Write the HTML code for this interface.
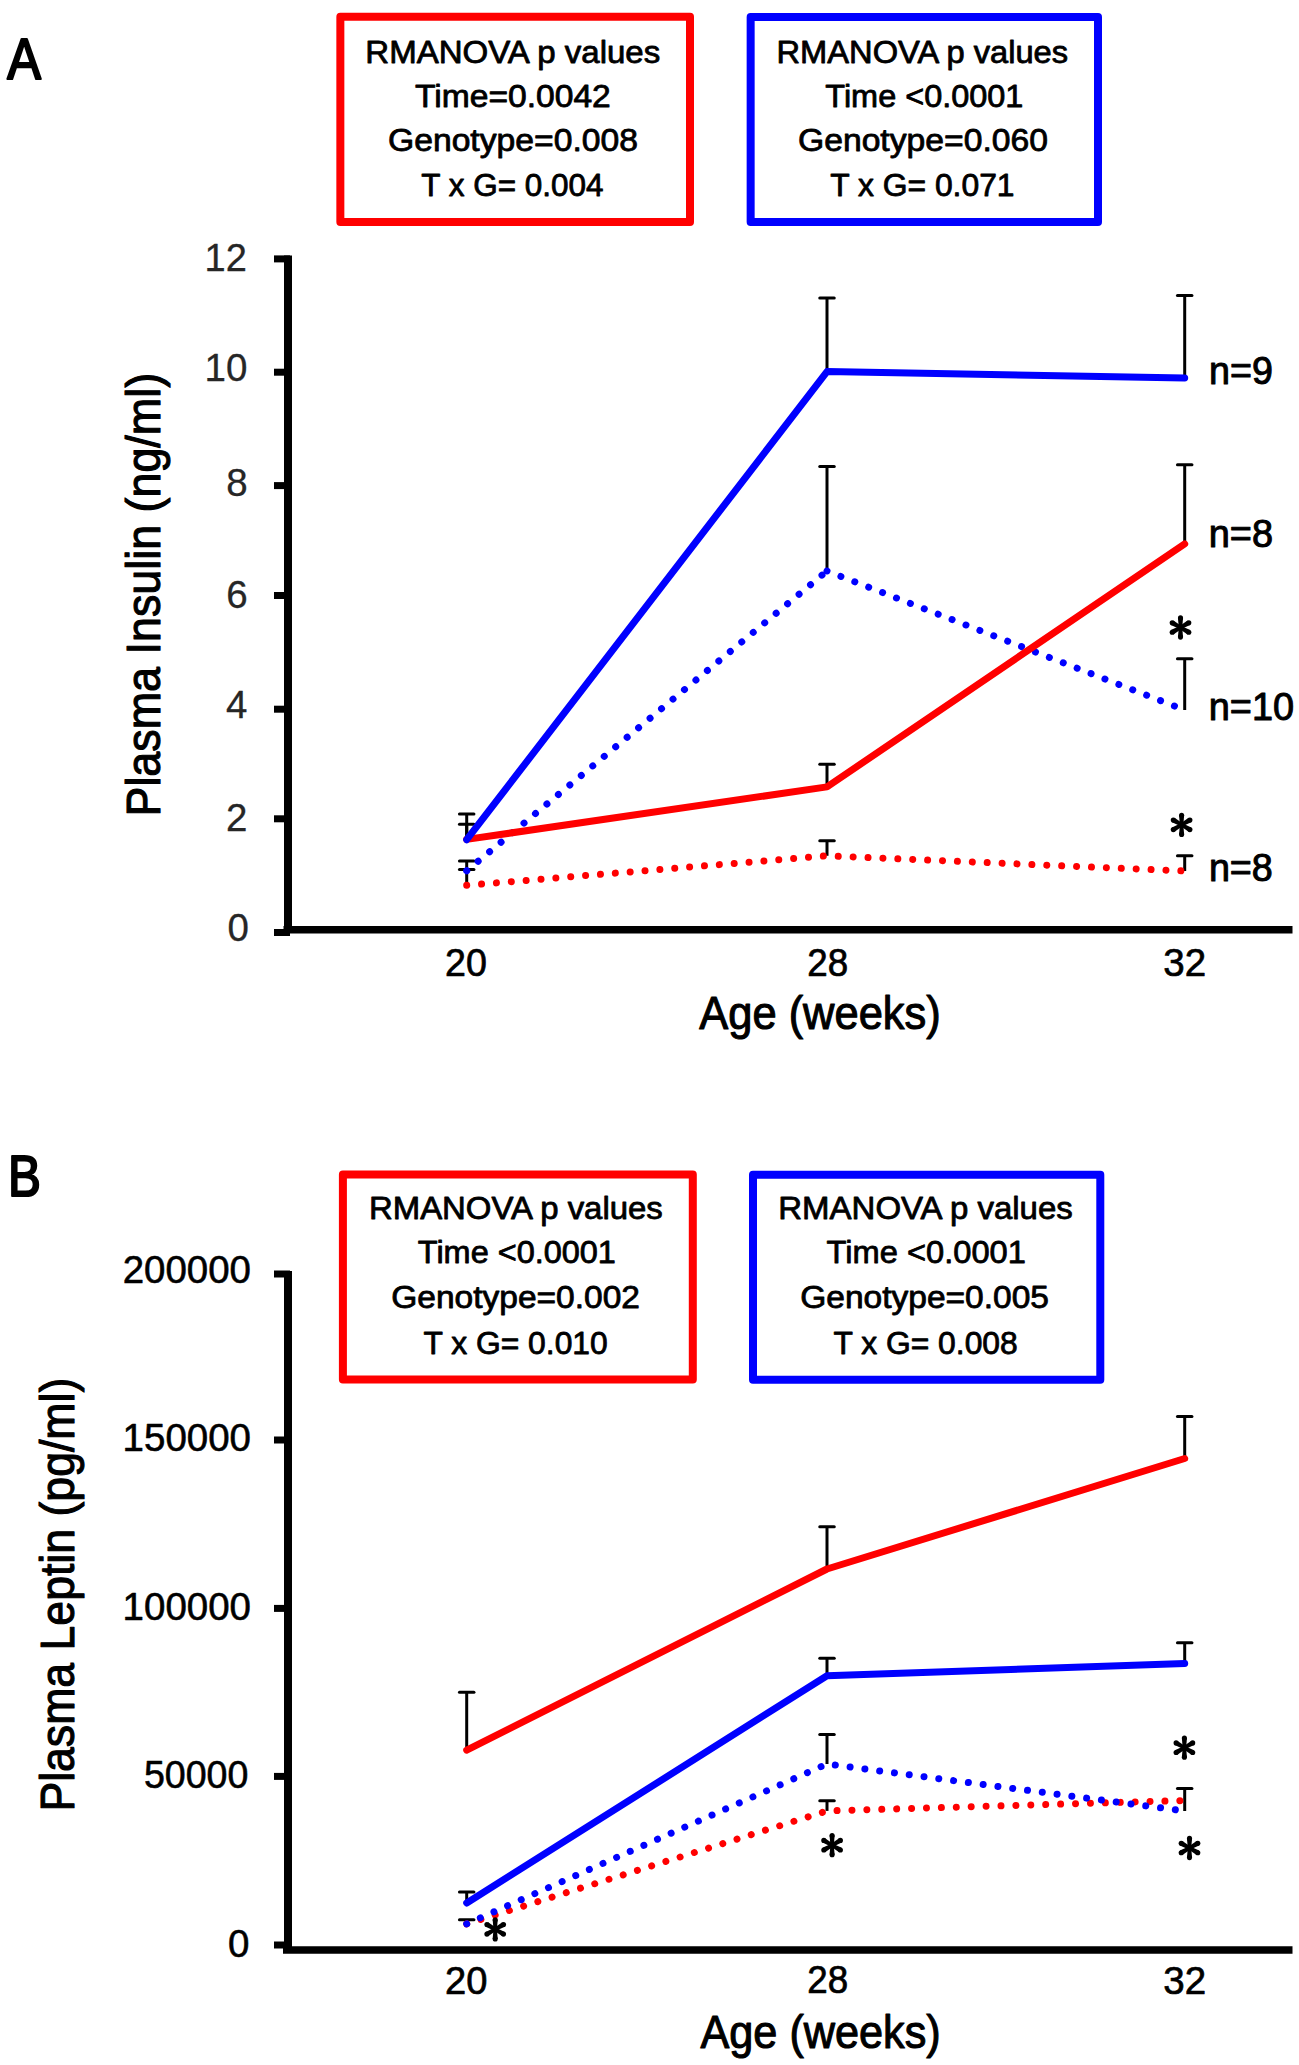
<!DOCTYPE html>
<html><head><meta charset="utf-8"><style>
html,body{margin:0;padding:0;background:#fff;width:1299px;height:2065px;overflow:hidden}
body{position:relative;font-family:"Liberation Sans", sans-serif}
</style></head><body>
<svg width="1299" height="2065" viewBox="0 0 1299 2065" style="position:absolute;left:0;top:0">
<g font-family='"Liberation Sans", sans-serif'>
<text x="0" y="0" transform="translate(7.2,78.6) scale(0.872,0.99)" font-size="58" fill="#000" stroke="#000" stroke-width="2.2" stroke-linejoin="round">A</text>
<text x="0" y="0" transform="translate(8,1196) scale(0.85,0.99)" font-size="58" fill="#000" stroke="#000" stroke-width="2.2" stroke-linejoin="round">B</text>
<rect x="340.35" y="16.85" width="349.65" height="205.25" fill="none" stroke="#ff0000" stroke-width="8" stroke-linejoin="round"/>
<rect x="750.65" y="16.9" width="347.35" height="205.2" fill="none" stroke="#0000ff" stroke-width="8" stroke-linejoin="round"/>
<line x1="288" y1="255.5" x2="288" y2="930" stroke="#000" stroke-width="8" stroke-linecap="butt"/>
<line x1="283.5" y1="929.8" x2="1292.5" y2="929.8" stroke="#000" stroke-width="7.5" stroke-linecap="butt"/>
<line x1="274" y1="258.9" x2="290" y2="258.9" stroke="#000" stroke-width="7" stroke-linecap="butt"/>
<line x1="274" y1="372.2" x2="290" y2="372.2" stroke="#000" stroke-width="7" stroke-linecap="butt"/>
<line x1="274" y1="485.6" x2="290" y2="485.6" stroke="#000" stroke-width="7" stroke-linecap="butt"/>
<line x1="274" y1="595.5" x2="290" y2="595.5" stroke="#000" stroke-width="7" stroke-linecap="butt"/>
<line x1="274" y1="709.2" x2="290" y2="709.2" stroke="#000" stroke-width="7" stroke-linecap="butt"/>
<line x1="274" y1="818.8" x2="290" y2="818.8" stroke="#000" stroke-width="7" stroke-linecap="butt"/>
<line x1="274" y1="932.5" x2="290" y2="932.5" stroke="#000" stroke-width="7" stroke-linecap="butt"/>
<line x1="466.7" y1="839" x2="466.7" y2="813.9" stroke="#000" stroke-width="3" stroke-linecap="butt"/>
<line x1="459.45" y1="813.9" x2="473.95" y2="813.9" stroke="#000" stroke-width="3" stroke-linecap="round"/>
<line x1="466.7" y1="839" x2="466.7" y2="824.3" stroke="#000" stroke-width="3" stroke-linecap="butt"/>
<line x1="459.45" y1="824.3" x2="473.95" y2="824.3" stroke="#000" stroke-width="3" stroke-linecap="round"/>
<line x1="466.7" y1="870.8" x2="466.7" y2="861" stroke="#000" stroke-width="3" stroke-linecap="butt"/>
<line x1="459.45" y1="861" x2="473.95" y2="861" stroke="#000" stroke-width="3" stroke-linecap="round"/>
<line x1="466.7" y1="885.3" x2="466.7" y2="869.6" stroke="#000" stroke-width="3" stroke-linecap="butt"/>
<line x1="459.45" y1="869.6" x2="473.95" y2="869.6" stroke="#000" stroke-width="3" stroke-linecap="round"/>
<line x1="827" y1="371.6" x2="827" y2="298" stroke="#000" stroke-width="3" stroke-linecap="butt"/>
<line x1="819.75" y1="298" x2="834.25" y2="298" stroke="#000" stroke-width="3" stroke-linecap="round"/>
<line x1="827" y1="786.9" x2="827" y2="764.2" stroke="#000" stroke-width="3" stroke-linecap="butt"/>
<line x1="819.75" y1="764.2" x2="834.25" y2="764.2" stroke="#000" stroke-width="3" stroke-linecap="round"/>
<line x1="827" y1="571" x2="827" y2="466.4" stroke="#000" stroke-width="3" stroke-linecap="butt"/>
<line x1="819.75" y1="466.4" x2="834.25" y2="466.4" stroke="#000" stroke-width="3" stroke-linecap="round"/>
<line x1="827" y1="855.8" x2="827" y2="840.8" stroke="#000" stroke-width="3" stroke-linecap="butt"/>
<line x1="819.75" y1="840.8" x2="834.25" y2="840.8" stroke="#000" stroke-width="3" stroke-linecap="round"/>
<line x1="1184.7" y1="378" x2="1184.7" y2="295.5" stroke="#000" stroke-width="3" stroke-linecap="butt"/>
<line x1="1177.45" y1="295.5" x2="1191.95" y2="295.5" stroke="#000" stroke-width="3" stroke-linecap="round"/>
<line x1="1184.7" y1="543.9" x2="1184.7" y2="464.7" stroke="#000" stroke-width="3" stroke-linecap="butt"/>
<line x1="1177.45" y1="464.7" x2="1191.95" y2="464.7" stroke="#000" stroke-width="3" stroke-linecap="round"/>
<line x1="1184.7" y1="710" x2="1184.7" y2="658.7" stroke="#000" stroke-width="3" stroke-linecap="butt"/>
<line x1="1177.45" y1="658.7" x2="1191.95" y2="658.7" stroke="#000" stroke-width="3" stroke-linecap="round"/>
<line x1="1184.7" y1="871" x2="1184.7" y2="855.8" stroke="#000" stroke-width="3" stroke-linecap="butt"/>
<line x1="1177.45" y1="855.8" x2="1191.95" y2="855.8" stroke="#000" stroke-width="3" stroke-linecap="round"/>
<polyline points="466.7,885.3 827,855.8 1184.7,871" fill="none" stroke="#ff0000" stroke-width="7" stroke-linecap="round" stroke-linejoin="round" stroke-dasharray="0.01 14.9"/>
<polyline points="466.7,870.8 827,571" fill="none" stroke="#0000ff" stroke-width="7" stroke-linecap="round" stroke-linejoin="round" stroke-dasharray="0.01 14.9"/>
<polyline points="827,571 1184.7,710" fill="none" stroke="#0000ff" stroke-width="7" stroke-linecap="round" stroke-linejoin="round" stroke-dasharray="0.01 14.9"/>
<polyline points="466.7,839.4 827,786.9 1184.7,543.9" fill="none" stroke="#ff0000" stroke-width="7" stroke-linecap="round" stroke-linejoin="round"/>
<polyline points="466.7,839.7 827,371.6 1184.7,378" fill="none" stroke="#0000ff" stroke-width="7" stroke-linecap="round" stroke-linejoin="round"/>
<g fill="#000"><polygon points="1178.80,627.50 1177.95,637.10 1183.05,637.10 1182.20,627.50"/><circle cx="1180.50" cy="637.10" r="2.55"/><polygon points="1179.65,628.97 1187.54,634.51 1190.09,630.09 1181.35,626.03"/><circle cx="1188.81" cy="632.30" r="2.55"/><polygon points="1179.65,626.03 1170.91,630.09 1173.46,634.51 1181.35,628.97"/><circle cx="1172.19" cy="632.30" r="2.55"/><polygon points="1182.20,627.50 1183.05,617.90 1177.95,617.90 1178.80,627.50"/><circle cx="1180.50" cy="617.90" r="2.55"/><polygon points="1181.35,626.03 1173.46,620.49 1170.91,624.91 1179.65,628.97"/><circle cx="1172.19" cy="622.70" r="2.55"/><polygon points="1181.35,628.97 1190.09,624.91 1187.54,620.49 1179.65,626.03"/><circle cx="1188.81" cy="622.70" r="2.55"/><circle cx="1180.50" cy="627.50" r="3"/></g>
<g fill="#000"><polygon points="1179.90,824.80 1179.05,834.40 1184.15,834.40 1183.30,824.80"/><circle cx="1181.60" cy="834.40" r="2.55"/><polygon points="1180.75,826.27 1188.64,831.81 1191.19,827.39 1182.45,823.33"/><circle cx="1189.91" cy="829.60" r="2.55"/><polygon points="1180.75,823.33 1172.01,827.39 1174.56,831.81 1182.45,826.27"/><circle cx="1173.29" cy="829.60" r="2.55"/><polygon points="1183.30,824.80 1184.15,815.20 1179.05,815.20 1179.90,824.80"/><circle cx="1181.60" cy="815.20" r="2.55"/><polygon points="1182.45,823.33 1174.56,817.79 1172.01,822.21 1180.75,826.27"/><circle cx="1173.29" cy="820.00" r="2.55"/><polygon points="1182.45,826.27 1191.19,822.21 1188.64,817.79 1180.75,823.33"/><circle cx="1189.91" cy="820.00" r="2.55"/><circle cx="1181.60" cy="824.80" r="3"/></g>
<rect x="342.9" y="1174.55" width="349.9" height="204.85000000000014" fill="none" stroke="#ff0000" stroke-width="8" stroke-linejoin="round"/>
<rect x="753" y="1174.7" width="347.29999999999995" height="205.0999999999999" fill="none" stroke="#0000ff" stroke-width="8" stroke-linejoin="round"/>
<line x1="288" y1="1271" x2="288" y2="1948" stroke="#000" stroke-width="8" stroke-linecap="butt"/>
<line x1="283" y1="1950" x2="1292.5" y2="1950" stroke="#000" stroke-width="7.7" stroke-linecap="butt"/>
<line x1="274" y1="1274" x2="290" y2="1274" stroke="#000" stroke-width="7" stroke-linecap="butt"/>
<line x1="274" y1="1440" x2="290" y2="1440" stroke="#000" stroke-width="7" stroke-linecap="butt"/>
<line x1="274" y1="1608.4" x2="290" y2="1608.4" stroke="#000" stroke-width="7" stroke-linecap="butt"/>
<line x1="274" y1="1776.4" x2="290" y2="1776.4" stroke="#000" stroke-width="7" stroke-linecap="butt"/>
<line x1="274" y1="1945" x2="290" y2="1945" stroke="#000" stroke-width="7" stroke-linecap="butt"/>
<line x1="466.7" y1="1750.2" x2="466.7" y2="1692.2" stroke="#000" stroke-width="3" stroke-linecap="butt"/>
<line x1="459.45" y1="1692.2" x2="473.95" y2="1692.2" stroke="#000" stroke-width="3" stroke-linecap="round"/>
<line x1="466.7" y1="1903" x2="466.7" y2="1891.9" stroke="#000" stroke-width="3" stroke-linecap="butt"/>
<line x1="459.45" y1="1891.9" x2="473.95" y2="1891.9" stroke="#000" stroke-width="3" stroke-linecap="round"/>
<line x1="466.7" y1="1923.9" x2="466.7" y2="1919.7" stroke="#000" stroke-width="3" stroke-linecap="butt"/>
<line x1="459.45" y1="1919.7" x2="473.95" y2="1919.7" stroke="#000" stroke-width="3" stroke-linecap="round"/>
<line x1="827" y1="1569" x2="827" y2="1526.7" stroke="#000" stroke-width="3" stroke-linecap="butt"/>
<line x1="819.75" y1="1526.7" x2="834.25" y2="1526.7" stroke="#000" stroke-width="3" stroke-linecap="round"/>
<line x1="827" y1="1675.7" x2="827" y2="1658.2" stroke="#000" stroke-width="3" stroke-linecap="butt"/>
<line x1="819.75" y1="1658.2" x2="834.25" y2="1658.2" stroke="#000" stroke-width="3" stroke-linecap="round"/>
<line x1="827" y1="1764" x2="827" y2="1734.5" stroke="#000" stroke-width="3" stroke-linecap="butt"/>
<line x1="819.75" y1="1734.5" x2="834.25" y2="1734.5" stroke="#000" stroke-width="3" stroke-linecap="round"/>
<line x1="827" y1="1810.9" x2="827" y2="1800.8" stroke="#000" stroke-width="3" stroke-linecap="butt"/>
<line x1="819.75" y1="1800.8" x2="834.25" y2="1800.8" stroke="#000" stroke-width="3" stroke-linecap="round"/>
<line x1="1184.7" y1="1458.5" x2="1184.7" y2="1416.6" stroke="#000" stroke-width="3" stroke-linecap="butt"/>
<line x1="1177.45" y1="1416.6" x2="1191.95" y2="1416.6" stroke="#000" stroke-width="3" stroke-linecap="round"/>
<line x1="1184.7" y1="1663.4" x2="1184.7" y2="1642.8" stroke="#000" stroke-width="3" stroke-linecap="butt"/>
<line x1="1177.45" y1="1642.8" x2="1191.95" y2="1642.8" stroke="#000" stroke-width="3" stroke-linecap="round"/>
<line x1="1184.7" y1="1811" x2="1184.7" y2="1788.4" stroke="#000" stroke-width="3" stroke-linecap="butt"/>
<line x1="1177.45" y1="1788.4" x2="1191.95" y2="1788.4" stroke="#000" stroke-width="3" stroke-linecap="round"/>
<polyline points="466.7,1923.9 827,1810.9 1184.7,1800.5" fill="none" stroke="#ff0000" stroke-width="7" stroke-linecap="round" stroke-linejoin="round" stroke-dasharray="0.01 14.9"/>
<polyline points="466.7,1923.9 827,1764 1184.7,1811" fill="none" stroke="#0000ff" stroke-width="7" stroke-linecap="round" stroke-linejoin="round" stroke-dasharray="0.01 14.9"/>
<polyline points="466.7,1750.2 827,1569 1184.7,1458.5" fill="none" stroke="#ff0000" stroke-width="7" stroke-linecap="round" stroke-linejoin="round"/>
<polyline points="466.7,1903 827,1675.7 1184.7,1663.4" fill="none" stroke="#0000ff" stroke-width="7" stroke-linecap="round" stroke-linejoin="round"/>
<g fill="#000"><polygon points="493.50,1929.30 492.65,1938.90 497.75,1938.90 496.90,1929.30"/><circle cx="495.20" cy="1938.90" r="2.55"/><polygon points="494.35,1930.77 502.24,1936.31 504.79,1931.89 496.05,1927.83"/><circle cx="503.51" cy="1934.10" r="2.55"/><polygon points="494.35,1927.83 485.61,1931.89 488.16,1936.31 496.05,1930.77"/><circle cx="486.89" cy="1934.10" r="2.55"/><polygon points="496.90,1929.30 497.75,1919.70 492.65,1919.70 493.50,1929.30"/><circle cx="495.20" cy="1919.70" r="2.55"/><polygon points="496.05,1927.83 488.16,1922.29 485.61,1926.71 494.35,1930.77"/><circle cx="486.89" cy="1924.50" r="2.55"/><polygon points="496.05,1930.77 504.79,1926.71 502.24,1922.29 494.35,1927.83"/><circle cx="503.51" cy="1924.50" r="2.55"/><circle cx="495.20" cy="1929.30" r="3"/></g>
<g fill="#000"><polygon points="830.40,1845.20 829.55,1854.80 834.65,1854.80 833.80,1845.20"/><circle cx="832.10" cy="1854.80" r="2.55"/><polygon points="831.25,1846.67 839.14,1852.21 841.69,1847.79 832.95,1843.73"/><circle cx="840.41" cy="1850.00" r="2.55"/><polygon points="831.25,1843.73 822.51,1847.79 825.06,1852.21 832.95,1846.67"/><circle cx="823.79" cy="1850.00" r="2.55"/><polygon points="833.80,1845.20 834.65,1835.60 829.55,1835.60 830.40,1845.20"/><circle cx="832.10" cy="1835.60" r="2.55"/><polygon points="832.95,1843.73 825.06,1838.19 822.51,1842.61 831.25,1846.67"/><circle cx="823.79" cy="1840.40" r="2.55"/><polygon points="832.95,1846.67 841.69,1842.61 839.14,1838.19 831.25,1843.73"/><circle cx="840.41" cy="1840.40" r="2.55"/><circle cx="832.10" cy="1845.20" r="3"/></g>
<g fill="#000"><polygon points="1182.70,1747.70 1181.85,1757.30 1186.95,1757.30 1186.10,1747.70"/><circle cx="1184.40" cy="1757.30" r="2.55"/><polygon points="1183.55,1749.17 1191.44,1754.71 1193.99,1750.29 1185.25,1746.23"/><circle cx="1192.71" cy="1752.50" r="2.55"/><polygon points="1183.55,1746.23 1174.81,1750.29 1177.36,1754.71 1185.25,1749.17"/><circle cx="1176.09" cy="1752.50" r="2.55"/><polygon points="1186.10,1747.70 1186.95,1738.10 1181.85,1738.10 1182.70,1747.70"/><circle cx="1184.40" cy="1738.10" r="2.55"/><polygon points="1185.25,1746.23 1177.36,1740.69 1174.81,1745.11 1183.55,1749.17"/><circle cx="1176.09" cy="1742.90" r="2.55"/><polygon points="1185.25,1749.17 1193.99,1745.11 1191.44,1740.69 1183.55,1746.23"/><circle cx="1192.71" cy="1742.90" r="2.55"/><circle cx="1184.40" cy="1747.70" r="3"/></g>
<g fill="#000"><polygon points="1187.80,1848.00 1186.95,1857.60 1192.05,1857.60 1191.20,1848.00"/><circle cx="1189.50" cy="1857.60" r="2.55"/><polygon points="1188.65,1849.47 1196.54,1855.01 1199.09,1850.59 1190.35,1846.53"/><circle cx="1197.81" cy="1852.80" r="2.55"/><polygon points="1188.65,1846.53 1179.91,1850.59 1182.46,1855.01 1190.35,1849.47"/><circle cx="1181.19" cy="1852.80" r="2.55"/><polygon points="1191.20,1848.00 1192.05,1838.40 1186.95,1838.40 1187.80,1848.00"/><circle cx="1189.50" cy="1838.40" r="2.55"/><polygon points="1190.35,1846.53 1182.46,1840.99 1179.91,1845.41 1188.65,1849.47"/><circle cx="1181.19" cy="1843.20" r="2.55"/><polygon points="1190.35,1849.47 1199.09,1845.41 1196.54,1840.99 1188.65,1846.53"/><circle cx="1197.81" cy="1843.20" r="2.55"/><circle cx="1189.50" cy="1848.00" r="3"/></g>
<text x="365.30" y="62.5" font-size="31" font-weight="normal" fill="#000" stroke="#000" stroke-width="0.8" stroke-linejoin="round" textLength="294.94" lengthAdjust="spacingAndGlyphs">RMANOVA p values</text>
<text x="415.00" y="106.9" font-size="31" font-weight="normal" fill="#000" stroke="#000" stroke-width="0.8" stroke-linejoin="round" textLength="195.81" lengthAdjust="spacingAndGlyphs">Time=0.0042</text>
<text x="388.00" y="151.0" font-size="31" font-weight="normal" fill="#000" stroke="#000" stroke-width="0.8" stroke-linejoin="round" textLength="249.92" lengthAdjust="spacingAndGlyphs">Genotype=0.008</text>
<text x="421.30" y="196.3" font-size="31" font-weight="normal" fill="#000" stroke="#000" stroke-width="0.8" stroke-linejoin="round" textLength="182.22" lengthAdjust="spacingAndGlyphs">T x G= 0.004</text>
<text x="776.50" y="62.5" font-size="31" font-weight="normal" fill="#000" stroke="#000" stroke-width="0.8" stroke-linejoin="round" textLength="291.54" lengthAdjust="spacingAndGlyphs">RMANOVA p values</text>
<text x="825.30" y="106.9" font-size="31" font-weight="normal" fill="#000" stroke="#000" stroke-width="0.8" stroke-linejoin="round" textLength="198.13" lengthAdjust="spacingAndGlyphs">Time &lt;0.0001</text>
<text x="798.00" y="151.0" font-size="31" font-weight="normal" fill="#000" stroke="#000" stroke-width="0.8" stroke-linejoin="round" textLength="249.92" lengthAdjust="spacingAndGlyphs">Genotype=0.060</text>
<text x="830.30" y="196.3" font-size="31" font-weight="normal" fill="#000" stroke="#000" stroke-width="0.8" stroke-linejoin="round" textLength="184.23" lengthAdjust="spacingAndGlyphs">T x G= 0.071</text>
<text x="369.00" y="1219.0" font-size="31" font-weight="normal" fill="#000" stroke="#000" stroke-width="0.8" stroke-linejoin="round" textLength="293.74" lengthAdjust="spacingAndGlyphs">RMANOVA p values</text>
<text x="417.80" y="1263.2" font-size="31" font-weight="normal" fill="#000" stroke="#000" stroke-width="0.8" stroke-linejoin="round" textLength="198.12" lengthAdjust="spacingAndGlyphs">Time &lt;0.0001</text>
<text x="391.20" y="1308.2" font-size="31" font-weight="normal" fill="#000" stroke="#000" stroke-width="0.8" stroke-linejoin="round" textLength="248.82" lengthAdjust="spacingAndGlyphs">Genotype=0.002</text>
<text x="423.50" y="1353.5" font-size="31" font-weight="normal" fill="#000" stroke="#000" stroke-width="0.8" stroke-linejoin="round" textLength="184.23" lengthAdjust="spacingAndGlyphs">T x G= 0.010</text>
<text x="778.30" y="1219.0" font-size="31" font-weight="normal" fill="#000" stroke="#000" stroke-width="0.8" stroke-linejoin="round" textLength="294.43" lengthAdjust="spacingAndGlyphs">RMANOVA p values</text>
<text x="826.60" y="1263.2" font-size="31" font-weight="normal" fill="#000" stroke="#000" stroke-width="0.8" stroke-linejoin="round" textLength="199.33" lengthAdjust="spacingAndGlyphs">Time &lt;0.0001</text>
<text x="800.20" y="1308.2" font-size="31" font-weight="normal" fill="#000" stroke="#000" stroke-width="0.8" stroke-linejoin="round" textLength="248.82" lengthAdjust="spacingAndGlyphs">Genotype=0.005</text>
<text x="833.50" y="1353.5" font-size="31" font-weight="normal" fill="#000" stroke="#000" stroke-width="0.8" stroke-linejoin="round" textLength="184.23" lengthAdjust="spacingAndGlyphs">T x G= 0.008</text>
<text x="204.60" y="270.9" font-size="38.5" font-weight="normal" fill="#262626" stroke="#262626" stroke-width="0.3" stroke-linejoin="round" textLength="42.29" lengthAdjust="spacingAndGlyphs">12</text>
<text x="204.60" y="381.0" font-size="38.5" font-weight="normal" fill="#262626" stroke="#262626" stroke-width="0.3" stroke-linejoin="round" textLength="42.86" lengthAdjust="spacingAndGlyphs">10</text>
<text x="226.30" y="495.5" font-size="38.5" font-weight="normal" fill="#262626" stroke="#262626" stroke-width="0.3" stroke-linejoin="round">8</text>
<text x="226.30" y="607.6" font-size="38.5" font-weight="normal" fill="#262626" stroke="#262626" stroke-width="0.3" stroke-linejoin="round">6</text>
<text x="226.00" y="718.0" font-size="38.5" font-weight="normal" fill="#262626" stroke="#262626" stroke-width="0.3" stroke-linejoin="round">4</text>
<text x="226.00" y="831.3" font-size="38.5" font-weight="normal" fill="#262626" stroke="#262626" stroke-width="0.3" stroke-linejoin="round">2</text>
<text x="227.50" y="941.4" font-size="38.5" font-weight="normal" fill="#262626" stroke="#262626" stroke-width="0.3" stroke-linejoin="round">0</text>
<text x="122.70" y="1283.0" font-size="38.5" font-weight="normal" fill="#000" stroke="#000" stroke-width="0.6" stroke-linejoin="round" textLength="128.26" lengthAdjust="spacingAndGlyphs">200000</text>
<text x="122.60" y="1451.3" font-size="38.5" font-weight="normal" fill="#000" stroke="#000" stroke-width="0.6" stroke-linejoin="round" textLength="128.41" lengthAdjust="spacingAndGlyphs">150000</text>
<text x="122.60" y="1620.4" font-size="38.5" font-weight="normal" fill="#000" stroke="#000" stroke-width="0.6" stroke-linejoin="round" textLength="128.41" lengthAdjust="spacingAndGlyphs">100000</text>
<text x="143.90" y="1788.1" font-size="38.5" font-weight="normal" fill="#000" stroke="#000" stroke-width="0.6" stroke-linejoin="round" textLength="104.47" lengthAdjust="spacingAndGlyphs">50000</text>
<text x="227.90" y="1956.8" font-size="38.5" font-weight="normal" fill="#000" stroke="#000" stroke-width="0.6" stroke-linejoin="round">0</text>
<text x="445.00" y="975.8" font-size="38.5" font-weight="normal" fill="#000" stroke="#000" stroke-width="0.7" stroke-linejoin="round" textLength="41.85" lengthAdjust="spacingAndGlyphs">20</text>
<text x="807.30" y="975.6" font-size="38.5" font-weight="normal" fill="#000" stroke="#000" stroke-width="0.7" stroke-linejoin="round" textLength="40.91" lengthAdjust="spacingAndGlyphs">28</text>
<text x="1163.30" y="976.3" font-size="38.5" font-weight="normal" fill="#000" stroke="#000" stroke-width="0.7" stroke-linejoin="round" textLength="42.84" lengthAdjust="spacingAndGlyphs">32</text>
<text x="445.00" y="1993.9" font-size="38.5" font-weight="normal" fill="#000" stroke="#000" stroke-width="0.7" stroke-linejoin="round" textLength="42.42" lengthAdjust="spacingAndGlyphs">20</text>
<text x="807.30" y="1993.1" font-size="38.5" font-weight="normal" fill="#000" stroke="#000" stroke-width="0.7" stroke-linejoin="round" textLength="40.91" lengthAdjust="spacingAndGlyphs">28</text>
<text x="1163.30" y="1993.9" font-size="38.5" font-weight="normal" fill="#000" stroke="#000" stroke-width="0.7" stroke-linejoin="round" textLength="42.84" lengthAdjust="spacingAndGlyphs">32</text>
<text x="1209.00" y="384.0" font-size="38" font-weight="normal" fill="#000" stroke="#000" stroke-width="1.0" stroke-linejoin="round" textLength="63.83" lengthAdjust="spacingAndGlyphs">n=9</text>
<text x="1208.80" y="546.6" font-size="38" font-weight="normal" fill="#000" stroke="#000" stroke-width="1.0" stroke-linejoin="round" textLength="64.22" lengthAdjust="spacingAndGlyphs">n=8</text>
<text x="1208.80" y="719.5" font-size="38" font-weight="normal" fill="#000" stroke="#000" stroke-width="1.0" stroke-linejoin="round" textLength="85.27" lengthAdjust="spacingAndGlyphs">n=10</text>
<text x="1208.90" y="881.1" font-size="38" font-weight="normal" fill="#000" stroke="#000" stroke-width="1.0" stroke-linejoin="round" textLength="63.91" lengthAdjust="spacingAndGlyphs">n=8</text>
<text x="699.30" y="1028.6" font-size="46.5" font-weight="normal" fill="#000" stroke="#000" stroke-width="1.1" stroke-linejoin="round" textLength="241.43" lengthAdjust="spacingAndGlyphs">Age (weeks)</text>
<text x="700.50" y="2048.0" font-size="46.5" font-weight="normal" fill="#000" stroke="#000" stroke-width="1.1" stroke-linejoin="round" textLength="240.23" lengthAdjust="spacingAndGlyphs">Age (weeks)</text>
<text x="0" y="0" transform="translate(159.8,816.50) rotate(-90)" font-size="47.5" font-weight="normal" fill="#000" stroke="#000" stroke-width="1.1" stroke-linejoin="round" textLength="443.57" lengthAdjust="spacingAndGlyphs">Plasma Insulin (ng/ml)</text>
<text x="0" y="0" transform="translate(73.5,1811.60) rotate(-90)" font-size="47.5" font-weight="normal" fill="#000" stroke="#000" stroke-width="1.1" stroke-linejoin="round" textLength="433.88" lengthAdjust="spacingAndGlyphs">Plasma Leptin (pg/ml)</text>
</g></svg>
</body></html>
